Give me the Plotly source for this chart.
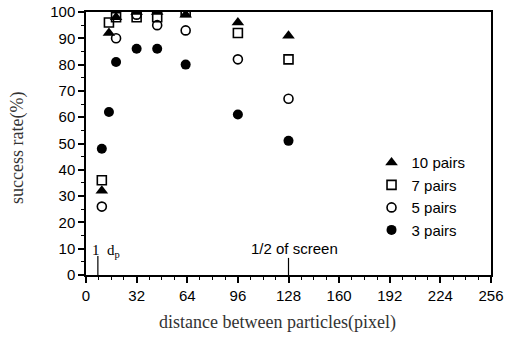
import plotly.graph_objects as go

x_vals = [10, 14.5, 19, 32, 45, 63, 96, 128]
pairs10 = [32, 92, 98, 100, 100, 99, 96, 91]
pairs7 = [36, 96, 98, 98, 98, 100, 92, 82]
x5 = [10, 19, 32, 45, 63, 96, 128]
pairs5 = [26, 90, 99, 95, 93, 82, 67]
pairs3 = [48, 62, 81, 86, 86, 80, 61, 51]

x_ticks = [0, 32, 64, 96, 128, 160, 192, 224, 256]
y_ticks = [0, 10, 20, 30, 40, 50, 60, 70, 80, 90, 100]

fig = go.Figure()
fig.add_trace(go.Scatter(x=x_vals, y=pairs10, mode="markers", name="10 pairs",
                         marker=dict(symbol="triangle-up", size=11, color="black")))
fig.add_trace(go.Scatter(x=x_vals, y=pairs7, mode="markers", name="7 pairs",
                         marker=dict(symbol="square-open", size=9, color="black", line=dict(width=1.6))))
fig.add_trace(go.Scatter(x=x5, y=pairs5, mode="markers", name="5 pairs",
                         marker=dict(symbol="circle-open", size=9, color="black", line=dict(width=1.6))))
fig.add_trace(go.Scatter(x=x_vals, y=pairs3, mode="markers", name="3 pairs",
                         marker=dict(symbol="circle", size=10, color="black")))

tick_font = dict(family="Liberation Sans, Arial, sans-serif", size=15, color="black")
title_font = dict(family="Liberation Serif, Times New Roman, serif", size=18, color="#333")

fig.update_layout(
    width=506, height=345,
    margin=dict(l=86, r=15, t=12, b=70),
    paper_bgcolor="white", plot_bgcolor="white",
    showlegend=True,
    legend=dict(x=0.705, y=0.49, xanchor="left", yanchor="top",
                bgcolor="rgba(0,0,0,0)", font=tick_font, itemwidth=30),
    xaxis=dict(range=[0, 256], tickvals=x_ticks, ticktext=[str(v) for v in x_ticks],
               showgrid=False, zeroline=False, showline=True, linecolor="black", linewidth=1.5,
               mirror=True, ticks="outside", ticklen=6, tickcolor="black", tickwidth=1.5,
               minor=dict(dtick=8, ticks="outside", ticklen=3, tickcolor="black", tickwidth=1),
               tickfont=tick_font, automargin=False),
    yaxis=dict(range=[0, 100], tickvals=y_ticks, ticktext=[str(v) for v in y_ticks],
               showgrid=False, zeroline=False, showline=True, linecolor="black", linewidth=1.5,
               mirror=True, ticks="outside", ticklen=6, tickcolor="black", tickwidth=1.5,
               minor=dict(dtick=5, ticks="outside", ticklen=3, tickcolor="black", tickwidth=1),
               tickfont=tick_font, automargin=False),
)

# axis titles placed in paper coordinates (plot area: x 86..491 px, y 12..275 px)
fig.add_annotation(xref="paper", yref="paper", x=(277 - 86) / 405, y=(275 - 322) / 263,
                   xanchor="center", yanchor="middle",
                   text="distance between particles(pixel)", showarrow=False, font=title_font)
fig.add_annotation(xref="paper", yref="paper", x=(17 - 86) / 405, y=(275 - 148) / 263,
                   xanchor="center", yanchor="middle",
                   text="success rate(%)", textangle=-90, showarrow=False, font=title_font)

fig.add_shape(type="line", x0=7.5, x1=7.5, y0=0, y1=7.2, xref="x", yref="y",
              line=dict(color="black", width=1.2))
fig.add_shape(type="line", x0=128, x1=128, y0=0, y1=6.5, xref="x", yref="y",
              line=dict(color="black", width=1.2))
fig.add_annotation(x=7.5, y=7.2, xref="x", yref="y", text="1  d<sub>p</sub>", showarrow=False,
                   xanchor="left", yanchor="bottom", xshift=-8, yshift=-6,
                   font=dict(family="Liberation Serif, serif", size=15, color="black"))
fig.add_annotation(x=128, y=7.2, xref="x", yref="y", text="1/2 of screen", showarrow=False,
                   xanchor="center", yanchor="bottom", xshift=6, yshift=-3,
                   font=tick_font)

fig.write_html("out.html")
